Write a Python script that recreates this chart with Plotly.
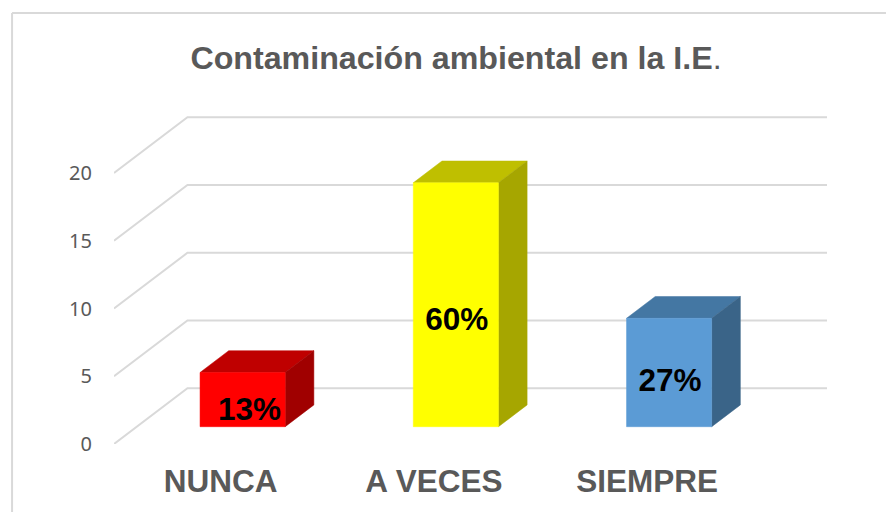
import plotly.graph_objects as go

categories = ["NUNCA", "A VECES", "SIEMPRE"]
values = [4, 18, 8]
percent_labels = ["13%", "60%", "27%"]
y_ticks = [0, 5, 10, 15, 20]
front_colors = ["#FF0000", "#FFFF00", "#5B9BD5"]
top_colors = ["#BF0000", "#BFBF00", "#4477A3"]
side_colors = ["#A00000", "#A6A600", "#3A6488"]

# Styling / geometry constants for the oblique 3D look
W, H = 886, 512
L, R, T, B = 113.5, 57, 114, 68
PX_PER_CAT = 213.4
PX_PER_UNIT = 13.55
GRID = "#D9D9D9"
TEXT = "#595959"
SANS = "Liberation Sans, Arial, sans-serif"
plot_w, plot_h = W - L - R, H - T - B
x_range = [-0.5, -0.5 + plot_w / PX_PER_CAT]
y_range = [0, plot_h / PX_PER_UNIT]
dx = lambda px: px / PX_PER_CAT
dy = lambda px: px / PX_PER_UNIT

floor_dx, floor_dy = dx(73.5), dy(55.7)
base_dx, base_dy = dx(22), dy(17.3)
depth_dx, depth_dy = dx(28.7), dy(21.8)
half = dx(42.6)
grid_end = x_range[0] + dx(713.5)
label_nudge_px = [(7, -13), (1, -17), (1, -11)]

fig = go.Figure()


def poly(xs, ys, color):
    fig.add_trace(go.Scatter(
        x=xs + xs[:1], y=ys + ys[:1], mode="lines", fill="toself",
        fillcolor=color, line=dict(color=color, width=0.5),
        hoverinfo="skip", showlegend=False))


# Floor/wall grid lines
for t in y_ticks:
    fig.add_trace(go.Scatter(
        x=[x_range[0], x_range[0] + floor_dx, grid_end],
        y=[t, t + floor_dy, t + floor_dy],
        mode="lines", line=dict(color=GRID, width=2),
        hoverinfo="skip", showlegend=False))

# 3D bars
for i, v in enumerate(values):
    x0, x1 = i + base_dx - half, i + base_dx + half
    y0, y1 = base_dy, base_dy + v
    poly([x0, x1, x1 + depth_dx, x0 + depth_dx],
         [y1, y1, y1 + depth_dy, y1 + depth_dy], top_colors[i])
    poly([x1, x1 + depth_dx, x1 + depth_dx, x1],
         [y0, y0 + depth_dy, y1 + depth_dy, y1], side_colors[i])
    poly([x0, x1, x1, x0], [y0, y0, y1, y1], front_colors[i])

# Data labels
fig.add_trace(go.Scatter(
    x=[i + base_dx + dx(label_nudge_px[i][0]) for i in range(3)],
    y=[base_dy + v / 2 + dy(label_nudge_px[i][1]) for i, v in enumerate(values)],
    mode="text", text=percent_labels, textposition="middle center",
    textfont=dict(family=SANS, size=31.5, color="#000000", weight="bold"),
    hoverinfo="skip", showlegend=False))

px_x = lambda p: (p - L) / plot_w
px_y = lambda p: (H - B - p) / plot_h

fig.update_layout(
    width=W, height=H, autosize=False,
    margin=dict(l=L, r=R, t=T, b=B, pad=0, autoexpand=False),
    paper_bgcolor="#FFFFFF", plot_bgcolor="rgba(0,0,0,0)",
    showlegend=False,
    title=dict(
        text="<b>Contaminación ambiental en la I.E</b>.",
        x=456 / W, xref="container", xanchor="center",
        y=1 - 58 / H, yref="container", yanchor="middle",
        font=dict(family=SANS, size=32.2, color=TEXT)),
    xaxis=dict(
        range=x_range, tickmode="array", tickvals=[0, 1, 2], ticktext=categories,
        showgrid=False, zeroline=False, showline=False, ticks="outside",
        ticklen=9, tickcolor="rgba(0,0,0,0)", automargin=False,
        tickfont=dict(family=SANS, size=31.5, color=TEXT, weight="bold")),
    yaxis=dict(
        range=y_range, tickmode="array", tickvals=y_ticks,
        showgrid=False, zeroline=False, showline=False, ticks="outside",
        ticklen=17, tickcolor="rgba(0,0,0,0)", automargin=False,
        tickfont=dict(family="Noto Sans", size=20, color=TEXT)),
    shapes=[
        dict(type="line", xref="paper", yref="paper", layer="below",
             x0=px_x(11.5), x1=px_x(11.5), y0=px_y(13), y1=px_y(H),
             line=dict(color=GRID, width=2)),
        dict(type="line", xref="paper", yref="paper", layer="below",
             x0=px_x(11.5), x1=px_x(W), y0=px_y(13), y1=px_y(13),
             line=dict(color=GRID, width=2)),
    ],
)

fig.write_html("out.html", config=dict(displayModeBar=False),
               post_script="document.body.style.margin='0';document.body.style.overflow='hidden';")
